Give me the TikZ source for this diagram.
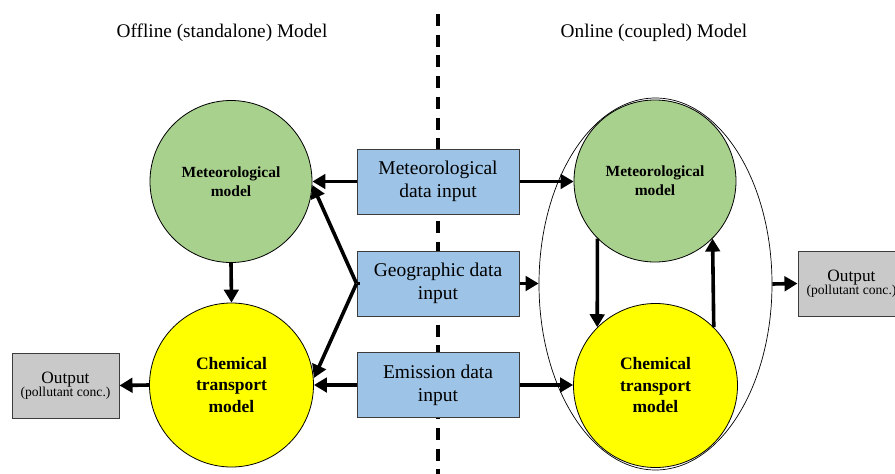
\documentclass[tikz,border=0pt]{standalone}
\usepackage{fontspec}
\setmainfont{Liberation Serif}
\usetikzlibrary{arrows.meta,shapes.geometric}

\definecolor{metgreen}{RGB}{169,209,142}
\definecolor{chemyellow}{RGB}{255,255,0}
\definecolor{inputblue}{RGB}{157,195,230}
\definecolor{outgray}{RGB}{201,201,201}
\definecolor{boxedge}{RGB}{60,60,60}

\tikzset{
  modelcircle/.style={circle, draw=black, line width=0.8pt, inner sep=0pt,
    align=center, font=\bfseries},
  metmodel/.style={modelcircle, fill=metgreen, minimum size=162pt,
    font=\fontsize{15.5}{19}\selectfont\bfseries},
  chemmodel/.style={modelcircle, fill=chemyellow, minimum size=164pt,
    font=\fontsize{17.5}{21.5}\selectfont\bfseries},
  inputbox/.style={rectangle, draw=boxedge, line width=1pt, fill=inputblue,
    minimum width=162pt, minimum height=65pt, inner sep=0pt, align=center,
    font=\fontsize{19.5}{23}\selectfont},
  outbox/.style={rectangle, draw=boxedge, line width=1pt, fill=outgray,
    minimum width=107pt, minimum height=65pt, inner sep=0pt, align=center},
  title/.style={font=\fontsize{19.3}{23}\selectfont},
  flow/.style={line width=3.6pt, -{Triangle[length=13pt,width=14.5pt]}},
  link/.style={line width=3.6pt},
  divider/.style={line width=3.3pt, dash pattern=on 12pt off 8.7pt},
}

\begin{document}
\begin{tikzpicture}[x=1pt,y=-1pt]
  \useasboundingbox (0,0) rectangle (895,474);
  \clip (0,0) rectangle (895,474);

  % dividing line between the two model types
  \coordinate (divtop) at (438,14);
  \coordinate (divbot) at (438,474);
  \draw[divider] (divtop) -- (divbot);

  % headings
  \node[title] (offtitle) at (222,33) {Offline (standalone) Model};
  \node[title] (ontitle) at (654,33) {Online (coupled) Model};

  % shared input data
  \node[inputbox] (metin) at (438,181.5) {Meteorological\\data input};
  \node[inputbox] (geoin) at (438,283.5) {Geographic data\\input};
  \node[inputbox] (emin) at (438,385) {Emission data\\input};

  % offline model
  \node[metmodel] (lmet) at (231,181.5) {Meteorological\\model};
  \node[chemmodel] (lchem) at (231.5,385) {Chemical\\transport\\model};
  \node[outbox] (lout) at (65.5,385.5)
    {\fontsize{17.3}{19}\selectfont Output\\[-1pt]\fontsize{13.6}{16}\selectfont (pollutant conc.)};

  % online model
  \node[ellipse, draw=black, line width=0.7pt, minimum width=233pt,
    minimum height=372pt, inner sep=0pt] (coupled) at (655.5,284) {};
  \node[metmodel] (rmet) at (655,181) {Meteorological\\model};
  \node[chemmodel] (rchem) at (655.5,385.5) {Chemical\\transport\\model};
  \node[outbox] (rout) at (851.5,283.5)
    {\fontsize{17.3}{19}\selectfont Output\\[-1pt]\fontsize{13.6}{16}\selectfont (pollutant conc.)};

  % offline connections
  \draw[flow] (metin.west) -- (metin.west -| lmet.east);
  \draw[flow] (geoin.west) -- ([yshift=-3.5pt]lmet.east);
  \draw[flow] (geoin.west) -- ([yshift=7pt]lchem.east);
  \draw[link] (geoin.west) -- ++(3,0);
  \draw[flow] (emin.west) -- (lchem.east);
  \draw[flow] (lmet.south) -- (lchem.north);
  \draw[flow] (lchem.west) -- (lout.east);

  % online connections
  \draw[flow] (metin.east) -- (metin.east -| rmet.west);
  \draw[flow] (geoin.east) -- (geoin.east -| coupled.west);
  \draw[flow] (emin.east) -- (emin.east -| rchem.west);
  \draw[flow] (rmet.225) -- (rchem.135);
  \draw[flow] (rchem.45) -- (rmet.-45);
  \draw[flow] (coupled.east) -- (rout.west);
\end{tikzpicture}
\end{document}
